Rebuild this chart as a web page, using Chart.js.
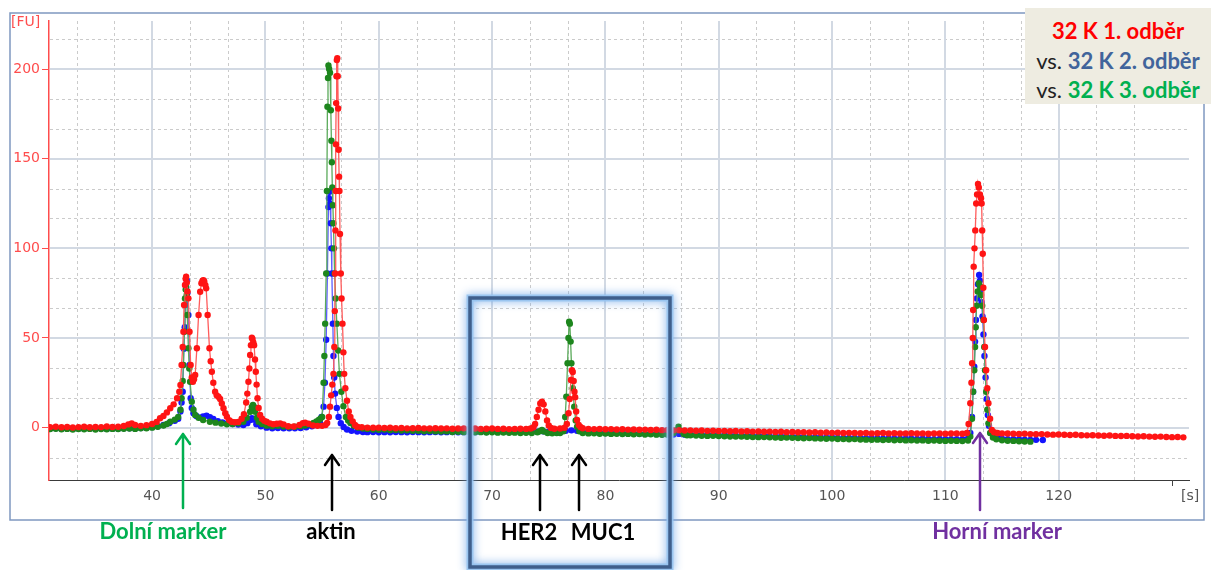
<!DOCTYPE html>
<html>
<head>
<meta charset="utf-8">
<script src="https://cdn.jsdelivr.net/npm/chart.js@4.4.1/dist/chart.umd.min.js"></script>
<style>
  html, body { margin: 0; padding: 0; background: #fff; }
  #wrap { position: relative; width: 1211px; height: 570px; overflow: hidden; }
  #chart { position: absolute; left: 0; top: 0; }
  .note { position: absolute; font-family: Lato, 'Open Sans', sans-serif; font-weight: 700; font-size: 22px;
          white-space: nowrap; transform: translate(-50%, -50%); line-height: 1; }
  .unit { position: absolute; font-family: 'DejaVu Sans', sans-serif; font-size: 14px; line-height: 1; }
  #legend { position: absolute; left: 1025px; top: 8px; width: 186px; height: 96px; background: #eeece1;
            font-family: Lato, 'Open Sans', sans-serif; font-size: 22px; text-align: center; }
  #legend div { position: absolute; left: 0; width: 100%; line-height: 1; }
  #legend b { font-weight: 700; }
</style>
</head>
<body>
<div id="wrap">
  <canvas id="chart" width="1211" height="570"></canvas>
  <div class="unit" style="left:11px; top:14px; color:#ff4d4d;">[FU]</div>
  <div class="unit" style="left:1181px; top:488px; color:#555;">[s]</div>
  <div class="note" style="left:163px; top:531px; color:#00b050;">Dolní marker</div>
  <div class="note" style="left:331px; top:531px; color:#000;">aktin</div>
  <div class="note" style="left:529px; top:532px; color:#000;">HER2</div>
  <div class="note" style="left:603px; top:532px; color:#000;">MUC1</div>
  <div class="note" style="left:997px; top:531px; color:#7030a0;">Horní marker</div>
  <div id="legend">
    <div style="top:12px;"><b style="color:#ff0000;">32 K 1. odběr</b></div>
    <div style="top:42px; color:#222;">vs. <b style="color:#41649b;">32 K 2. odběr</b></div>
    <div style="top:71px; color:#222;">vs. <b style="color:#00b050;">32 K 3. odběr</b></div>
  </div>
</div>
<script>
// Electropherogram traces, [time s, fluorescence FU]
const redTrace = [
  [31,0.3],[31.5,0.5],[32,0.2],[32.5,0.4],[33,0.1],[33.5,0.3],[34,0.5],[34.5,0.2],[35,0.4],[35.5,0.3],
  [36,0.6],[36.5,0.4],[37,0.5],[37.5,0.9],[37.9,1.8],[38.2,2.4],[38.5,1.5],[39,1.0],[39.5,1.4],[40,2.0],
  [40.4,3.2],[40.7,5.2],[41,6.5],[41.3,8.5],[41.6,10.8],[41.9,13],[42.2,16.4],[42.4,20],[42.5,23.8],[42.6,35],
  [42.7,45],[42.76,53.5],[42.82,68.4],[42.9,79.6],[42.96,83],[43.0,84.2],[43.06,81],[43.12,76],[43.2,72.1],[43.3,53.5],
  [43.4,35],[43.5,28],[43.6,25.6],[43.7,27],[43.8,29.4],[43.95,44.3],[44.1,62.8],[44.24,75.8],[44.35,80.5],[44.45,82],
  [44.53,82.3],[44.6,81.5],[44.7,79.5],[44.77,77.7],[44.9,62.8],[45.06,44.3],[45.17,37],[45.27,31.2],[45.4,25],[45.56,20],
  [45.7,18],[45.85,17.3],[46.0,16],[46.15,13.5],[46.3,10.8],[46.45,8],[46.6,6.1],[46.8,4.2],[47.0,3.3],[47.3,3.0],
  [47.6,3.2],[47.9,5],[48.1,7.5],[48.3,14],[48.4,19],[48.5,25.6],[48.58,33],[48.65,40.5],[48.72,46],[48.8,50.2],
  [48.86,49.5],[48.93,47.5],[49.0,46],[49.08,38],[49.15,31.2],[49.22,24],[49.3,16.4],[49.4,11],[49.53,7.1],[49.7,5],
  [49.9,3.8],[50.1,3.3],[50.4,2.4],[50.7,1.9],[51.0,2.2],[51.3,2.4],[51.6,1.8],[52.0,0.8],[52.5,0.6],[53.0,1.5],
  [53.3,2.5],[53.5,2.8],[53.8,2.2],[54.2,1.2],[54.6,1.0],[55.0,1.0],[55.3,1.5],[55.45,2.6],[55.6,6],[55.7,11.7],
  [55.8,18],[55.9,24],[56.0,30],[56.08,45],[56.12,65],[56.15,86],[56.18,110],[56.2,132],[56.22,158],[56.24,181],
  [56.27,196],[56.3,205],[56.34,206],[56.38,196],[56.42,178],[56.46,155],[56.5,140],[56.53,132],[56.58,108],[56.65,86],
  [56.72,72],[56.8,58],[56.88,42],[56.95,30],[57.05,22],[57.2,15],[57.35,9],[57.5,6],[57.7,3.5],[57.9,1.5],
  [58.1,0.5],[58.5,0.2],[59,0.0],[59.5,-0.1],[60,0.0],[60.5,-0.2],[61,-0.1],[61.5,-0.3],[62,-0.2],[62.5,-0.4],
  [63,-0.3],[63.5,-0.2],[64,-0.4],[64.5,-0.5],[65,-0.3],[65.5,-0.5],[66,-0.4],[66.5,-0.6],[67,-0.5],[67.5,-0.4],
  [68,-0.6],[68.5,-0.5],[69,-0.7],[69.5,-0.6],[70,-0.5],[70.5,-0.7],[71,-0.6],[71.5,-0.8],[72,-0.7],[72.5,-0.6],
  [73,-0.7],[73.4,-0.5],[73.65,0.2],[73.8,2],[73.95,6],[74.1,10],[74.25,13.5],[74.4,14.5],[74.55,13],[74.7,9],
  [74.85,4],[75.0,1.2],[75.2,-0.2],[75.5,-0.6],[76.0,-0.5],[76.4,-0.1],[76.6,2],[76.75,8],[76.85,16],[76.96,26.6],
  [77.05,32],[77.12,31],[77.2,26],[77.27,20],[77.33,17],[77.42,9],[77.5,4.3],[77.65,1.5],[77.8,0.4],[78.0,-0.3],
  [78.5,-0.7],[79,-0.8],[79.5,-0.7],[80,-0.9],[80.5,-0.8],[81,-1.0],[81.5,-0.9],[82,-1.1],[82.5,-1.0],[83,-1.2],
  [83.5,-1.1],[84,-1.3],[84.5,-1.2],[85,-1.4],[85.5,-1.3],[86,-1.5],[86.5,-1.4],[87,-1.6],[87.5,-1.5],[88,-1.7],
  [88.5,-1.6],[89,-1.8],[89.5,-1.7],[90,-1.9],[90.5,-1.8],[91,-2.0],[91.5,-1.9],[92,-2.1],[92.5,-2.0],[93,-2.2],
  [93.5,-2.1],[94,-2.3],[94.5,-2.2],[95,-2.4],[95.5,-2.3],[96,-2.5],[96.5,-2.4],[97,-2.6],[97.5,-2.5],[98,-2.7],
  [98.5,-2.6],[99,-2.8],[99.5,-2.7],[100,-2.9],[100.5,-2.8],[101,-3.0],[101.5,-2.9],[102,-3.0],[102.5,-3.1],[103,-3.0],
  [103.5,-3.2],[104,-3.1],[104.5,-3.0],[105,-3.2],[105.5,-3.1],[106,-3.3],[106.5,-3.2],[107,-3.1],[107.5,-3.3],[108,-3.2],
  [108.5,-3.4],[109,-3.3],[109.5,-3.2],[110,-3.4],[110.5,-3.3],[111,-3.2],[111.5,-3.4],[111.9,-3.0],[112.05,2],[112.2,13.6],
  [112.3,25],[112.36,35.9],[112.42,50],[112.45,65.6],[112.5,89.8],[112.57,100],[112.64,110],[112.72,125],[112.8,130],[112.88,135.9],
  [112.95,134],[113.05,130],[113.15,128],[113.2,125],[113.25,110],[113.3,97],[113.35,78],[113.4,60],[113.5,45],[113.6,32],
  [113.7,22],[113.8,13.6],[113.95,5],[114.1,-1.3],[114.3,-2.6],[114.6,-3.0],[115,-3.2],[115.5,-3.3],[116,-3.4],[116.5,-3.5],
  [117,-3.4],[117.5,-3.6],[118,-3.7],[118.5,-3.6],[119,-3.8],[119.5,-3.9],[120,-3.8],[120.5,-4.0],[121,-4.1],[121.5,-4.0],
  [122,-4.2],[122.5,-4.3],[123,-4.2],[123.5,-4.4],[124,-4.5],[124.5,-4.4],[125,-4.6],[125.5,-4.7],[126,-4.6],[126.5,-4.8],
  [127,-4.9],[127.5,-4.8],[128,-5.0],[128.5,-5.1],[129,-5.0],[129.5,-5.2],[130,-5.3],[130.5,-5.2],[131,-5.4]
];

const greenTrace = [
  [31,-0.8],[31.5,-0.6],[32,-0.9],[32.5,-0.7],[33,-1.0],[33.5,-0.8],[34,-0.9],[34.5,-0.7],[35,-1.0],[35.5,-0.8],
  [36,-0.9],[36.5,-0.7],[37,-0.8],[37.5,-0.6],[38,-0.5],[38.5,-0.7],[39,-0.4],[39.5,-0.3],[40,0.0],[40.5,0.5],
  [41,1.2],[41.3,2],[41.6,3.3],[42.0,4.5],[42.3,6],[42.5,10],[42.6,16.4],[42.7,26],[42.76,35],[42.85,53.5],
  [42.9,72],[42.96,77],[43.0,78.6],[43.05,74],[43.1,62.8],[43.2,44.3],[43.28,33],[43.35,25.6],[43.5,14.5],[43.65,10],
  [43.8,7.1],[44.1,5.5],[44.5,4.3],[45.1,3.3],[45.6,2.8],[46.1,2.3],[46.6,1.9],[47.1,2.0],[47.6,2.4],[48.05,3.3],
  [48.35,5.5],[48.65,8.9],[48.8,11.5],[48.9,12.7],[49.0,11.5],[49.1,8.9],[49.25,5.5],[49.4,3.3],[49.7,2.0],[50.1,1.1],
  [50.6,0.8],[51.1,1.0],[51.6,0.6],[52.1,0.4],[52.6,0.5],[53.1,0.8],[53.5,1.2],[53.9,1.8],[54.24,2.6],[54.5,3.5],
  [54.7,4.3],[54.85,5],[55.0,6],[55.13,25],[55.2,40],[55.27,58],[55.36,86],[55.42,132],[55.47,179],[55.52,195],
  [55.56,202],[55.62,200],[55.7,198],[55.77,177],[55.82,160],[55.86,148],[55.9,134],[55.95,124],[56.0,114],[56.05,100],
  [56.1,86],[56.2,72],[56.3,58],[56.42,43],[56.53,30],[56.7,20],[56.88,12],[57.1,6],[57.3,4],[57.5,2.6],
  [57.8,1.0],[58.2,0.0],[58.6,-0.5],[59,-0.8],[59.5,-1.0],[60,-1.2],[60.5,-1.1],[61,-1.4],[61.5,-1.3],[62,-1.6],
  [62.5,-1.5],[63,-1.8],[63.5,-1.7],[64,-2.0],[64.5,-1.9],[65,-2.1],[65.5,-2.2],[66,-2.1],[66.5,-2.4],[67,-2.3],
  [67.5,-2.5],[68,-2.4],[68.5,-2.6],[69,-2.5],[69.5,-2.7],[70,-2.6],[70.5,-2.8],[71,-2.7],[71.5,-2.9],[72,-2.8],
  [72.5,-3.0],[73,-2.9],[73.5,-3.0],[74,-2.6],[74.2,-2.0],[74.4,-1.3],[74.6,-2.2],[74.9,-3.0],[75.3,-3.1],[75.7,-3.0],
  [76.0,-3.0],[76.3,-2.0],[76.45,6],[76.55,17.3],[76.66,35.9],[76.74,50],[76.8,59.1],[76.86,58],[76.93,48],[77.0,35.9],
  [77.12,22],[77.25,11.7],[77.38,4],[77.5,0.5],[77.7,-2.0],[78,-3.0],[78.5,-3.2],[79,-3.1],[79.5,-3.4],[80,-3.3],
  [80.5,-3.5],[81,-3.4],[81.5,-3.6],[82,-3.5],[82.5,-3.7],[83,-3.6],[83.5,-3.8],[84,-3.7],[84.5,-3.9],[85,-4.0],
  [85.5,-3.9],[86.0,-3.0],[86.25,-1.5],[86.45,0.5],[86.65,-1.8],[86.9,-3.6],[87.2,-4.2],[87.5,-4.3],[88,-4.4],[88.5,-4.5],
  [89,-4.6],[89.5,-4.5],[90,-4.7],[90.5,-4.8],[91,-4.9],[91.5,-5.0],[92,-4.9],[92.5,-5.1],[93,-5.2],[93.5,-5.3],
  [94,-5.2],[94.5,-5.4],[95,-5.5],[95.5,-5.6],[96,-5.5],[96.5,-5.7],[97,-5.8],[97.5,-5.9],[98,-5.8],[98.5,-6.0],
  [99,-6.1],[99.5,-6.2],[100,-6.1],[100.5,-6.3],[101,-6.4],[101.5,-6.5],[102,-6.4],[102.5,-6.6],[103,-6.7],[103.5,-6.8],
  [104,-6.7],[104.5,-6.9],[105,-6.8],[105.5,-7.0],[106,-6.9],[106.5,-7.1],[107,-7.0],[107.5,-7.2],[108,-7.1],[108.5,-7.3],
  [109,-7.2],[109.5,-7.3],[110,-7.4],[110.5,-7.3],[111,-7.4],[111.5,-7.5],[112,-7.2],[112.2,-5],[112.35,5],[112.45,20],
  [112.55,32],[112.62,45],[112.68,56],[112.75,68],[112.85,76],[112.95,80.5],[113.05,79],[113.15,74],[113.25,68],[113.36,60],
  [113.43,45],[113.5,32],[113.6,20],[113.7,10],[113.8,2.4],[113.95,-3],[114.2,-5.5],[114.5,-6.5],[115,-7.0],[115.5,-7.3],
  [116,-7.4],[116.5,-7.6],[117,-7.7],[117.5,-7.8]
];

const blueTrace = [
  [31,-0.5],[31.5,-0.4],[32,-0.6],[32.5,-0.5],[33,-0.7],[33.5,-0.5],[34,-0.6],[34.5,-0.4],[35,-0.6],[35.5,-0.5],
  [36,-0.7],[36.5,-0.5],[37,-0.6],[37.5,-0.4],[38,-0.3],[38.5,-0.5],[39,-0.2],[39.5,0.0],[40,0.3],[40.5,0.8],
  [41,1.5],[41.5,2.5],[42.0,3.8],[42.3,5],[42.5,9],[42.6,14],[42.7,20],[42.8,44],[42.88,56],[42.95,68.4],
  [43.0,78],[43.05,82.3],[43.1,75],[43.2,62.8],[43.3,35],[43.4,16.4],[43.5,11],[43.65,8],[43.9,6.5],[44.24,5.6],
  [44.5,6.2],[44.8,6.7],[45.1,5.8],[45.4,4.8],[45.8,3.6],[46.2,2.9],[46.6,2.4],[47.1,2.0],[47.6,1.7],[48.05,1.5],
  [48.4,2.5],[48.65,4.2],[48.8,5.2],[48.95,4.5],[49.2,1.9],[49.6,0.8],[50.1,0.0],[50.6,-0.3],[51.1,-0.2],[51.6,-0.4],
  [52.1,-0.3],[52.6,-0.4],[53.1,-0.2],[53.6,0.2],[54.1,0.8],[54.5,1.5],[54.8,3],[54.95,6],[55.13,11.7],[55.25,25],
  [55.36,49],[55.47,86],[55.56,123],[55.6,128],[55.65,131.6],[55.7,125],[55.77,114],[55.82,100],[55.86,86],[55.95,58],
  [56.0,40],[56.07,28],[56.15,19],[56.3,11],[56.45,6],[56.65,2.5],[56.9,0.4],[57.2,-1.0],[57.6,-1.8],[58.1,-2.2],
  [58.6,-2.4],[59,-2.5],[59.5,-2.4],[60,-2.6],[60.5,-2.5],[61,-2.6],[61.5,-2.4],[62,-2.5],[62.5,-2.6],[63,-2.4],
  [63.5,-2.5],[64,-2.6],[64.5,-2.5],[65,-2.4],[65.5,-2.6],[66,-2.5],[66.5,-2.4],[67,-2.6],[67.5,-2.5],[68,-2.4],
  [68.5,-2.5],[69,-2.3],[69.5,-2.4],[70,-2.2],[70.5,-2.3],[71,-2.2],[71.5,-2.4],[72,-2.3],[72.5,-2.2],[73,-2.4],
  [73.5,-2.3],[74,-2.2],[74.5,-2.0],[75,-2.2],[75.5,-2.1],[76,-2.0],[76.5,-1.7],[77,-1.5],[77.5,-1.8],[78,-2.3],
  [78.5,-2.6],[79,-2.8],[79.5,-2.9],[80,-3.0],[80.5,-3.1],[81,-3.0],[81.5,-3.2],[82,-3.3],[82.5,-3.2],[83,-3.4],
  [83.5,-3.5],[84,-3.4],[84.5,-3.6],[85,-3.7],[85.5,-3.6],[86,-3.8],[86.5,-3.5],[87,-3.9],[87.5,-4.0],[88,-4.0],
  [88.5,-4.1],[89,-4.2],[89.5,-4.1],[90,-4.3],[90.5,-4.4],[91,-4.3],[91.5,-4.5],[92,-4.6],[92.5,-4.5],[93,-4.7],
  [93.5,-4.8],[94,-4.7],[94.5,-4.9],[95,-5.0],[95.5,-4.9],[96,-5.1],[96.5,-5.2],[97,-5.1],[97.5,-5.3],[98,-5.4],
  [98.5,-5.3],[99,-5.5],[99.5,-5.6],[100,-5.5],[100.5,-5.7],[101,-5.7],[101.5,-5.8],[102,-5.8],[102.5,-5.9],[103,-5.9],
  [103.5,-6.0],[104,-6.0],[104.5,-6.1],[105,-6.0],[105.5,-6.1],[106,-6.2],[106.5,-6.1],[107,-6.2],[107.5,-6.3],[108,-6.2],
  [108.5,-6.3],[109,-6.4],[109.5,-6.3],[110,-6.4],[110.5,-6.4],[111,-6.5],[111.5,-6.4],[112,-6.0],[112.2,-3],[112.35,6],
  [112.45,20],[112.55,34],[112.62,48],[112.7,60],[112.78,72],[112.88,80],[112.98,85.1],[113.05,82],[113.12,76],[113.2,70],
  [113.28,62],[113.36,52],[113.45,40],[113.55,28],[113.65,16],[113.75,7],[113.85,1],[114.0,-3],[114.3,-5],[114.6,-5.8],
  [115,-6.2],[115.5,-6.4],[116,-6.5],[116.5,-6.6],[117,-6.7],[117.5,-6.8],[118,-6.8],[118.6,-6.9]
];

// Axis ticks
const xTickValues = [40, 50, 60, 70, 80, 90, 100, 110, 120, 130];
const xTickLabels = ['40', '50', '60', '70', '80', '90', '100', '110', '120', ''];
const yTickValues = [0, 50, 100, 150, 200];

const X_MIN = 30.9, X_MAX = 131.5;
const Y_MIN = -29.2, Y_MAX = 226.8;

// ============================================
// DECORATION PLUGINS
// ============================================

// Solid major grid + dashed minor grid (thirds of a major step)
const gridPlugin = {
    id: 'fuGrid',
    beforeDatasetsDraw(chart) {
        const { ctx, chartArea: a, scales: { x, y } } = chart;
        ctx.save();
        ctx.lineWidth = 1;
        ctx.strokeStyle = '#cbcbcb';
        ctx.setLineDash([3, 3]);
        for (let v = 30; v <= 130; v += 10) {
            [v + 10 / 3, v + 20 / 3].forEach(m => {
                if (m < X_MIN || m > X_MAX) return;
                const px = Math.round(x.getPixelForValue(m)) + 0.5;
                ctx.beginPath(); ctx.moveTo(px, a.top); ctx.lineTo(px, a.bottom); ctx.stroke();
            });
        }
        for (let v = -50; v <= 200; v += 50) {
            [v + 50 / 3, v + 100 / 3].forEach(m => {
                if (m < Y_MIN || m > Y_MAX) return;
                const py = Math.round(y.getPixelForValue(m)) + 0.5;
                ctx.beginPath(); ctx.moveTo(a.left + 1, py); ctx.lineTo(a.right, py); ctx.stroke();
            });
        }
        ctx.setLineDash([]);
        ctx.lineWidth = 2;
        ctx.strokeStyle = '#d2d9e3';
        xTickValues.slice(0, -1).forEach(v => {
            const px = Math.round(x.getPixelForValue(v));
            ctx.beginPath(); ctx.moveTo(px, a.top); ctx.lineTo(px, a.bottom); ctx.stroke();
        });
        yTickValues.forEach(v => {
            const py = Math.round(y.getPixelForValue(v));
            ctx.beginPath(); ctx.moveTo(a.left + 1, py); ctx.lineTo(a.right, py); ctx.stroke();
        });
        // lone tick mark at 130 s
        const t130 = Math.round(x.getPixelForValue(130)) + 0.5;
        ctx.lineWidth = 1;
        ctx.strokeStyle = '#444';
        ctx.beginPath(); ctx.moveTo(t130, a.bottom); ctx.lineTo(t130, a.bottom + 6); ctx.stroke();
        ctx.restore();
    }
};

function drawArrow(ctx, x, yTip, yEnd, color) {
    ctx.save();
    ctx.strokeStyle = color;
    ctx.lineWidth = 2.5;
    ctx.lineCap = 'round';
    ctx.lineJoin = 'round';
    ctx.beginPath();
    ctx.moveTo(x, yEnd); ctx.lineTo(x, yTip);
    ctx.moveTo(x - 7, yTip + 10); ctx.lineTo(x, yTip); ctx.lineTo(x + 7, yTip + 10);
    ctx.stroke();
    ctx.restore();
}

// Outer frame, arrows and the highlighted HER2/MUC1 window
const overlayPlugin = {
    id: 'overlay',
    afterDraw(chart) {
        const ctx = chart.ctx;
        ctx.save();
        ctx.strokeStyle = '#7f98c0';
        ctx.lineWidth = 1.5;
        ctx.strokeRect(10, 13, 1194, 507);

        drawArrow(ctx, 183, 434, 508, '#00b050');
        drawArrow(ctx, 332, 455, 510, '#000');
        drawArrow(ctx, 540, 455, 510, '#000');
        drawArrow(ctx, 579, 455, 510, '#000');
        drawArrow(ctx, 980, 433, 510, '#7030a0');

        // glowing box
        ctx.shadowColor = 'rgba(110,165,230,0.95)';
        ctx.shadowBlur = 10;
        ctx.strokeStyle = 'rgba(150,195,240,0.9)';
        ctx.lineWidth = 7;
        ctx.strokeRect(470, 298, 200, 269);
        ctx.shadowBlur = 0;
        ctx.strokeStyle = '#3f5f8c';
        ctx.lineWidth = 3.5;
        ctx.strokeRect(470, 298, 200, 269);
        ctx.restore();
    }
};

// ============================================
// CHART
// ============================================

function traceDataset(label, trace, dotColor, lineColor) {
    return {
        label,
        data: trace.map(p => ({ x: p[0], y: p[1] })),
        borderColor: lineColor,
        borderWidth: 1.3,
        backgroundColor: dotColor,
        pointBackgroundColor: dotColor,
        pointBorderWidth: 0,
        pointRadius: 3.2,
        tension: 0
    };
}

const ctx = document.getElementById('chart').getContext('2d');
new Chart(ctx, {
    type: 'line',
    data: {
        datasets: [
            traceDataset('32 K 1. odběr', redTrace, '#ff1414', '#ff5c5c'),
            traceDataset('32 K 3. odběr', greenTrace, '#1d861d', '#5aaa5a'),
            traceDataset('32 K 2. odběr', blueTrace, '#1414ff', '#5c5cff')
        ]
    },
    options: {
        responsive: false,
        animation: false,
        events: [],
        layout: { padding: { left: 0, right: 22, top: 21, bottom: 0 } },
        plugins: { legend: { display: false }, tooltip: { enabled: false } },
        scales: {
            x: {
                type: 'linear',
                min: X_MIN,
                max: X_MAX,
                afterBuildTicks: s => { s.ticks = xTickValues.map(v => ({ value: v })); },
                afterFit: s => { s.height = 90; },
                grid: { display: false, drawTicks: false },
                border: { display: true, color: '#3a3a3a', width: 1 },
                ticks: {
                    padding: 8,
                    maxRotation: 0,
                    autoSkip: false,
                    color: '#555',
                    font: { family: 'DejaVu Sans', size: 14 },
                    callback: v => xTickLabels[xTickValues.indexOf(v)] ?? ''
                }
            },
            y: {
                min: Y_MIN,
                max: Y_MAX,
                afterBuildTicks: s => { s.ticks = yTickValues.map(v => ({ value: v })); },
                afterFit: s => { s.width = 49; },
                grid: { display: true, drawOnChartArea: false, drawTicks: true, tickLength: 7, color: '#ff4d4d' },
                border: { display: true, color: '#ff4d4d', width: 1.5 },
                ticks: {
                    padding: 2,
                    color: '#ff4d4d',
                    font: { family: 'DejaVu Sans', size: 14 }
                }
            }
        }
    },
    plugins: [gridPlugin, overlayPlugin]
});
</script>
</body>
</html>
